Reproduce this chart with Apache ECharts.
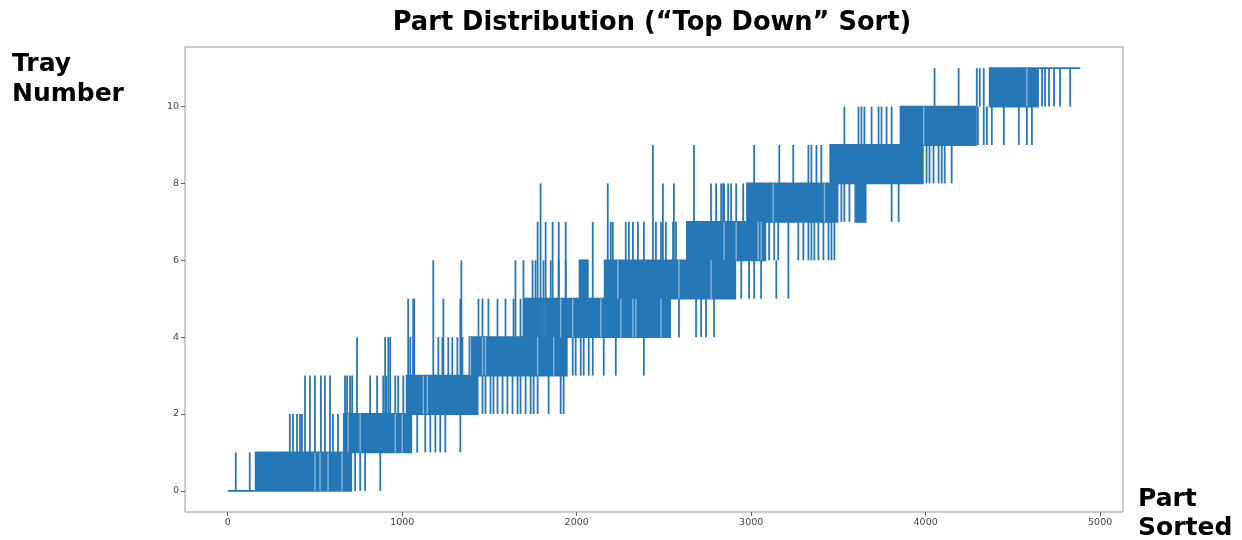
<!DOCTYPE html>
<html>
<head>
<meta charset="utf-8">
<script src="https://cdn.jsdelivr.net/npm/echarts@6/dist/echarts.min.js"></script>
<style>
  html, body { margin: 0; padding: 0; background: #fff; }
  #chart { width: 1242px; height: 540px; }
</style>
</head>
<body>
<div id="chart"></div>
<script>
// Tray number of each sorted part: dense stretches where the value alternates
// between two neighbouring trays, isolated excursions, and flat runs.

// [partFrom, partTo, trayLow, trayHigh]
const bands = [
  [155, 713, 0, 1],
  [660, 1057, 1, 2],
  [1020, 1437, 2, 3],
  [1380, 1948, 3, 4],
  [1695, 2540, 4, 5],
  [2011, 2069, 5, 6],
  [2155, 2914, 5, 6],
  [2626, 3086, 6, 7],
  [2971, 3500, 7, 8],
  [3592, 3661, 7, 8],
  [3448, 3989, 8, 9],
  [3851, 4293, 9, 10],
  [4362, 4649, 10, 11]
];

// [part, trayLow, trayHigh]
const spikes = [
  [46,0,1],[126,0,1],
  [356,1,2],[374,1,2],[397,1,2],[414,1,2],[425,1,2],[603,1,2],[632,1,2],
  [443,1,3],[471,1,3],[500,1,3],[534,1,3],[557,1,3],[586,1,3],[672,1,3],[701,1,3],
  [741,1,4],
  [730,0,1],[759,0,1],[787,0,1],[874,0,1],
  [684,2,3],[713,2,3],[816,2,3],[856,2,3],[891,2,3],[908,2,3],[960,2,3],[977,2,3],[1006,2,3],
  [902,2,4],[920,2,4],[931,2,4],
  [1034,2,5],[1069,3,5],
  [1086,1,2],[1132,1,2],[1161,1,2],[1190,1,2],[1218,1,2],[1247,1,2],[1333,1,2],
  [1046,3,4],[1063,3,4],[1207,3,4],[1230,3,4],[1264,3,4],[1287,3,4],[1316,3,4],[1345,3,4],
  [1063,3,5],[1236,3,5],[1333,3,5],[1437,4,5],[1460,4,5],[1494,4,5],[1546,4,5],[1592,4,5],[1638,4,5],[1678,4,5],
  [1178,3,6],[1339,3,6],
  [1460,2,3],[1477,2,3],[1506,2,3],[1523,2,3],[1546,2,3],[1575,2,3],[1603,2,3],[1632,2,3],[1661,2,3],
  [1678,2,3],[1707,2,3],[1736,2,3],[1753,2,3],[1776,2,3],[1839,2,3],[1908,2,3],[1925,2,3],
  [1977,3,4],[1994,3,4],[2023,3,4],[2040,3,4],[2069,3,4],[2092,3,4],[2155,3,4],[2224,3,4],[2385,3,4],
  [1649,4,6],[1695,4,6],[1747,4,6],[1764,4,6],[1810,4,6],[1851,4,6],[1897,4,6],[1937,4,6],
  [1776,5,7],[1822,5,7],[1862,5,7],[1897,5,7],[1937,5,7],[2092,5,7],[2207,5,7],[2281,5,7],
  [1793,5,8],[2178,5,8],
  [2586,4,5],[2684,4,5],[2713,4,5],[2741,4,5],[2787,4,5],
  [2195,6,7],[2299,6,7],[2322,6,7],[2351,6,7],[2385,6,7],[2454,6,7],[2483,6,7],[2511,6,7],[2552,6,7],[2569,6,7],
  [2437,6,9],[2494,6,8],[2557,6,8],[2672,7,9],[2770,7,8],[2799,7,8],[2828,7,8],[2845,7,8],
  [2943,5,6],[2988,5,6],[3017,5,6],[3057,5,6],[3144,5,6],[3213,5,6],
  [2839,7,8],[2868,7,8],[2885,7,8],[2914,7,8],[2954,7,8],
  [3017,8,9],[3161,8,9],[3241,8,9],[3328,8,9],[3345,8,9],[3374,8,9],[3402,8,9],
  [3103,6,7],[3132,6,7],[3155,6,7],[3213,6,7],[3270,6,7],[3299,6,7],[3328,6,7],[3345,6,7],
  [3362,6,7],[3385,6,7],[3414,6,7],[3443,6,7],[3460,6,7],[3477,6,7],
  [3517,7,8],[3534,7,8],[3563,7,8],[3805,7,8],[3845,7,8],
  [3534,9,10],[3615,9,10],[3632,9,10],[3649,9,10],[3690,9,10],[3730,9,10],[3747,9,10],[3776,9,10],[3805,9,10],
  [4005,8,9],[4022,8,9],[4045,8,9],[4074,8,9],[4092,8,9],[4109,8,9],[4149,8,9],
  [4051,10,11],[4189,10,11],[4293,10,11],[4310,10,11],[4333,10,11],
  [4299,9,10],[4333,9,10],[4351,9,10],[4379,9,10],[4448,9,10],[4534,9,10],[4580,9,10],[4609,9,10],
  [4667,10,11],[4684,10,11],[4707,10,11],[4736,10,11],[4770,10,11],[4828,10,11]
];

// Thinner stretches inside the dense bands: [part, trayLow, trayHigh]
const sparse = [
  [500,0,1],[529,0,1],[575,0,1],[655,0,1],
  [690,1,2],[759,1,2],[960,1,2],[1000,1,2],
  [1121,2,3],[1144,2,3],
  [1391,3,4],[1460,3,4],[1477,3,4],[1776,3,4],[1868,3,4],
  [1810,4,5],[1908,4,5],[1977,4,5],[2138,4,5],[2253,4,5],[2322,4,5],[2339,4,5],[2483,4,5],
  [2236,5,6],[2586,5,6],[2770,5,6],
  [2845,6,7],[2914,6,7],[3040,6,7],[3057,6,7],
  [3126,7,8],[3420,7,8],
  [3989,9,10],
  [4580,10,11]
];

// [partFrom, partTo, tray]
const runs = [
  [0, 155, 0],
  [4649, 4886, 11]
];

const xTicks = [0, 1000, 2000, 3000, 4000, 5000];
const yTicks = [0, 2, 4, 6, 8, 10];

const BLUE = '#2677b5';
const PALE = '#86b4da';
const LINE_W = 1.8;

const chart = echarts.init(document.getElementById('chart'), null, { renderer: 'canvas' });

function renderBand(params, api) {
  const a = api.coord([api.value(0), api.value(3)]);
  const b = api.coord([api.value(1), api.value(2)]);
  return {
    type: 'rect',
    shape: { x: a[0], y: a[1] - LINE_W / 2, width: b[0] - a[0], height: b[1] - a[1] + LINE_W },
    style: { fill: BLUE }
  };
}

function spikeRenderer(color, w) {
  return function (params, api) {
    const top = api.coord([api.value(0), api.value(2)]);
    const bot = api.coord([api.value(0), api.value(1)]);
    return {
      type: 'rect',
      shape: { x: top[0] - w / 2, y: top[1], width: w, height: bot[1] - top[1] },
      style: { fill: color }
    };
  };
}

function renderRun(params, api) {
  const a = api.coord([api.value(0), api.value(2)]);
  const b = api.coord([api.value(1), api.value(2)]);
  return {
    type: 'rect',
    shape: { x: a[0], y: a[1] - LINE_W / 2, width: b[0] - a[0], height: LINE_W },
    style: { fill: BLUE }
  };
}

const labelFont = 'DejaVu Sans, sans-serif';

chart.setOption({
  animation: false,
  backgroundColor: '#ffffff',
  grid: {
    left: 185, right: 119, top: 47, bottom: 28,
    show: true, borderColor: '#9a9a9a', borderWidth: 1, backgroundColor: 'transparent'
  },
  xAxis: {
    type: 'value',
    min: -245, max: 5131,
    axisLine: { show: false, onZero: false },
    splitLine: { show: false },
    axisTick: { show: true, customValues: xTicks, length: 4, lineStyle: { color: '#666' } },
    axisLabel: { customValues: xTicks, fontSize: 9.5, color: '#444', margin: 6, fontFamily: labelFont,
      formatter: v => String(v) }
  },
  yAxis: {
    type: 'value',
    min: -0.55, max: 11.55,
    axisLine: { show: false, onZero: false },
    splitLine: { show: false },
    axisTick: { show: true, customValues: yTicks, length: 4, lineStyle: { color: '#666' } },
    axisLabel: { customValues: yTicks, fontSize: 9.5, color: '#444', margin: 6, fontFamily: labelFont,
      formatter: v => String(v) }
  },
  graphic: [
    { type: 'text', x: 652, y: 23, style: { text: 'Part Distribution (“Top Down” Sort)', font: 'bold 25.7px "DejaVu Sans"', fill: '#000', align: 'center', verticalAlign: 'middle' } },
    { type: 'text', x: 12, y: 64, style: { text: 'Tray', font: 'bold 25px "DejaVu Sans"', fill: '#000', align: 'left', verticalAlign: 'middle' } },
    { type: 'text', x: 12, y: 94, style: { text: 'Number', font: 'bold 25px "DejaVu Sans"', fill: '#000', align: 'left', verticalAlign: 'middle' } },
    { type: 'text', x: 1138, y: 499, style: { text: 'Part', font: 'bold 25px "DejaVu Sans"', fill: '#000', align: 'left', verticalAlign: 'middle' } },
    { type: 'text', x: 1138, y: 528, style: { text: 'Sorted', font: 'bold 25px "DejaVu Sans"', fill: '#000', align: 'left', verticalAlign: 'middle' } }
  ],
  series: [
    { type: 'custom', name: 'bands', renderItem: renderBand, data: bands, encode: { x: [0, 1], y: [2, 3] }, silent: true, clip: true, z: 2 },
    { type: 'custom', name: 'sparse', renderItem: spikeRenderer(PALE, 1.4), data: sparse, encode: { x: 0, y: [1, 2] }, silent: true, clip: true, z: 3 },
    { type: 'custom', name: 'spikes', renderItem: spikeRenderer(BLUE, LINE_W), data: spikes, encode: { x: 0, y: [1, 2] }, silent: true, clip: true, z: 4 },
    { type: 'custom', name: 'runs', renderItem: renderRun, data: runs, encode: { x: [0, 1], y: 2 }, silent: true, clip: true, z: 4 }
  ]
});
</script>
</body>
</html>
